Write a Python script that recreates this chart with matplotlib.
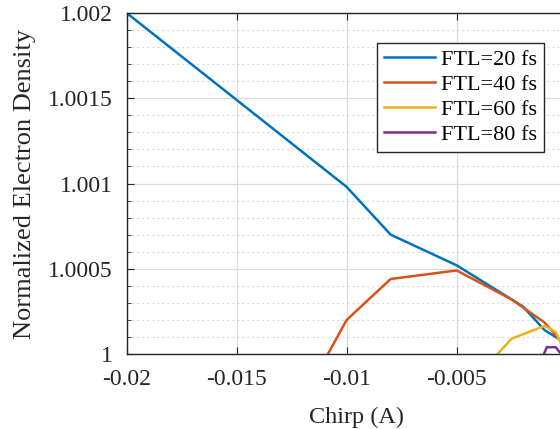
import numpy as np
from matplotlib import pyplot as plt
from matplotlib.ticker import MultipleLocator

plt.rcParams['font.family'] = ['Liberation Serif', 'DejaVu Serif']

# data
chirp_20 = [-0.02, -0.01, -0.008, -0.005, -0.002, -0.001, 0.0]
dens_20 = [1.002, 1.00098, 1.0007, 1.00052, 1.00028, 1.00014, 1.00006]

chirp_40 = [-0.012, -0.01, -0.008, -0.005, -0.0025, -0.001, 0.0]
dens_40 = [0.99973, 1.0002, 1.00044, 1.00049, 1.00032, 1.000184, 1.00004]

chirp_60 = [-0.004, -0.0025, -0.001, -0.0005, 0.0]
dens_60 = [0.99988, 1.00009, 1.000165, 1.00013, 0.99999]

chirp_80 = [-0.0013, -0.0009, -0.0005, 0.0]
dens_80 = [0.99992, 1.00004, 1.00004, 0.99996]

labels = ['FTL=20 fs', 'FTL=40 fs', 'FTL=60 fs', 'FTL=80 fs']
colors = ['#0072BD', '#D95319', '#EDB120', '#7E2F8E']

fig = plt.figure(figsize=(5.6, 4.29), dpi=100)
ax = fig.add_axes([0.2262, 0.1748, 0.7857, 0.7949])

ax.plot(chirp_20, dens_20, color=colors[0], lw=1.8, label=labels[0])
ax.plot(chirp_40, dens_40, color=colors[1], lw=1.8, label=labels[1])
ax.plot(chirp_60, dens_60, color=colors[2], lw=1.8, label=labels[2])
ax.plot(chirp_80, dens_80, color=colors[3], lw=1.8, label=labels[3])

ax.set_xlim(-0.02, 0)
ax.set_ylim(1.0, 1.002)
# the 0 tick sits just past the right edge of the image
ax.set_xticks([-0.02, -0.015, -0.01, -0.005, 0])
ax.set_xticklabels(['-0.02', '-0.015', '-0.01', '-0.005', ''])
ax.set_yticks([1.0, 1.0005, 1.001, 1.0015, 1.002])
ax.set_yticklabels(['1', '1.0005', '1.001', '1.0015', '1.002'])
ax.yaxis.set_minor_locator(MultipleLocator(0.0001))

ax.tick_params(which='both', direction='in', top=True, right=True,
               labelsize=17, color='#262626', labelcolor='#262626')
ax.tick_params(which='major', length=5)
ax.tick_params(axis='y', which='major', pad=10)
ax.tick_params(axis='x', which='major', pad=11)
ax.tick_params(which='minor', length=3)

ax.grid(which='major', color='#dcdcdc', lw=0.9)
ax.grid(which='minor', axis='y', color='#d0d0d0', lw=0.8, linestyle=(0, (1.5, 3)))
ax.set_axisbelow(True)
for s in ax.spines.values():
    s.set_color('#262626')
    s.set_linewidth(1.0)

ax.set_xlabel('Chirp (A)', fontsize=17.5, color='#262626')
ax.xaxis.set_label_coords(0.523, -0.155)
ax.set_ylabel('Normalized Electron Density', fontsize=19, color='#262626')
ax.yaxis.set_label_coords(-0.205, 0.5)

leg = ax.legend(loc='upper left', bbox_to_anchor=(0.569, 0.912), fontsize=16,
                labelspacing=0.2, handlelength=2.3, handletextpad=0.3,
                borderpad=0.3, borderaxespad=0, fancybox=False, framealpha=1)
leg.get_frame().set_edgecolor('#262626')
leg.get_frame().set_linewidth(1.0)

plt.savefig('out.png', dpi=100)
